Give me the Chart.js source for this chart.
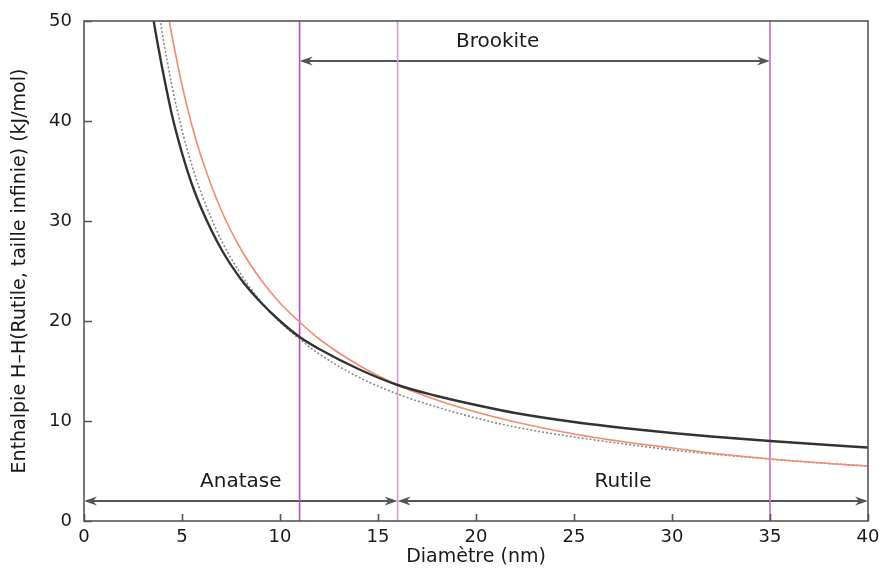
<!DOCTYPE html>
<html>
<head>
<meta charset="utf-8">
<script src="https://cdn.jsdelivr.net/npm/chart.js@4/dist/chart.umd.min.js"></script>
<style>
html,body{margin:0;padding:0;background:#fff;}
#c{display:block;}
</style>
</head>
<body>
<canvas id="c" width="883" height="569"></canvas>
<script>
// ---- Data ----
const blackD  = [3.5, 3.75, 4, 4.5, 5, 5.5, 6, 7, 8, 9, 10, 11, 12, 14, 16, 18, 20, 22, 25, 28, 30, 32, 35, 38, 40];
const blackH  = [50.6, 47.8, 45.2, 40.5, 36.8, 33.7, 31.2, 27.2, 24.2, 21.9, 20.0, 18.4, 17.2, 15.2, 13.6, 12.5, 11.6, 10.8, 9.9, 9.2, 8.8, 8.45, 8.0, 7.6, 7.35];
const orangeD = [4.3, 4.5, 5, 5.5, 6, 7, 8, 9, 10, 11, 12, 14, 16, 18, 20, 22, 25, 28, 30, 32, 35, 38, 40];
const orangeH = [50.5, 48.4, 43.6, 39.6, 36.3, 31.1, 27.2, 24.2, 21.8, 19.9, 18.2, 15.6, 13.6, 12.1, 10.9, 9.9, 8.7, 7.8, 7.3, 6.8, 6.2, 5.75, 5.5];
const greyD   = [3.88, 4, 4.5, 5, 5.5, 6, 7, 8, 9, 10, 11, 12, 14, 16, 18, 20, 22, 25, 28, 30, 32, 35, 38, 40];
const greyH   = [50.2, 48.7, 43.4, 39.1, 35.6, 32.7, 28.1, 24.7, 22.0, 19.9, 18.2, 16.7, 14.4, 12.7, 11.4, 10.3, 9.4, 8.4, 7.6, 7.1, 6.7, 6.2, 5.75, 5.5];

const boundaries   = [11, 16, 35];
const regionNames  = ['Anatase', 'Brookite', 'Rutile'];
const regionStart  = [0, 11, 16];
const regionEnd    = [16, 35, 40];
const regionLevel  = [2, 46, 2];
const regionLabelX = [8, 21.1, 27.5];
const regionLabelY = [3.9, 47.9, 3.9];

const xTicks = [0, 5, 10, 15, 20, 25, 30, 35, 40];
const yTicks = [0, 10, 20, 30, 40, 50];

const xTitle = 'Diamètre (nm)';
const yTitle = 'Enthalpie H–H(Rutile, taille infinie) (kJ/mol)';

// ---- helpers ----
const pts = (xs, ys) => xs.map((x, i) => ({x: x, y: ys[i]}));
const boundaryColors = ['#c04cc0', '#d79ad7', '#c870c8'];
const FONT = '"DejaVu Sans", Verdana, sans-serif';
const TXT = '#1a1a1a';
const AX = '#555555';

const boundarySets = boundaries.map((b, i) => ({
  data: [{x: b, y: 0}, {x: b, y: 50}],
  borderColor: boundaryColors[i],
  borderWidth: 1.6,
  pointRadius: 0,
  showLine: true,
  order: 5
}));

const decor = {
  id: 'decor',
  beforeDatasetsDraw(chart) {
    const {ctx, scales: {x, y}} = chart;
    ctx.save();
    ctx.strokeStyle = AX;
    ctx.fillStyle = AX;
    ctx.lineWidth = 2;
    const head = (px, py, dir) => {
      const L = 13, W = 4.5, N = 4;
      ctx.beginPath();
      ctx.moveTo(px, py);
      ctx.lineTo(px - dir * L, py - W);
      ctx.lineTo(px - dir * (L - N), py);
      ctx.lineTo(px - dir * L, py + W);
      ctx.closePath();
      ctx.fill();
    };
    for (let i = 0; i < regionNames.length; i++) {
      const x0 = x.getPixelForValue(regionStart[i]);
      const x1 = x.getPixelForValue(regionEnd[i]);
      const py = y.getPixelForValue(regionLevel[i]);
      ctx.beginPath();
      ctx.moveTo(x0 + 4, py);
      ctx.lineTo(x1 - 4, py);
      ctx.stroke();
      head(x0, py, -1);
      head(x1, py, 1);
      ctx.font = '20px ' + FONT;
      ctx.fillStyle = TXT;
      ctx.textAlign = 'center';
      ctx.textBaseline = 'middle';
      ctx.fillText(regionNames[i], x.getPixelForValue(regionLabelX[i]), y.getPixelForValue(regionLabelY[i]));
      ctx.fillStyle = AX;
    }
    ctx.restore();
  },
  afterDraw(chart) {
    const {ctx, chartArea: a, scales: {x, y}} = chart;
    ctx.save();
    ctx.strokeStyle = AX;
    ctx.lineWidth = 1.6;
    ctx.strokeRect(a.left, a.top, a.right - a.left, a.bottom - a.top);
    ctx.beginPath();
    xTicks.forEach(v => {
      const px = Math.round(x.getPixelForValue(v)) + 0.5;
      ctx.moveTo(px, a.bottom);
      ctx.lineTo(px, a.bottom - 7);
    });
    yTicks.forEach(v => {
      const py = Math.round(y.getPixelForValue(v)) + 0.5;
      ctx.moveTo(a.left, py);
      ctx.lineTo(a.left + 8, py);
    });
    ctx.stroke();
    ctx.restore();
  }
};

new Chart(document.getElementById('c'), {
  type: 'scatter',
  data: {
    datasets: [
      {
        label: 'noir',
        data: pts(blackD, blackH),
        borderColor: '#333333',
        borderWidth: 2.4,
        showLine: true,
        pointRadius: 0,
        cubicInterpolationMode: 'monotone',
        order: 1
      },
      {
        label: 'orange',
        data: pts(orangeD, orangeH),
        borderColor: '#f48a72',
        borderWidth: 1.6,
        showLine: true,
        pointRadius: 0,
        cubicInterpolationMode: 'monotone',
        order: 2
      },
      {
        label: 'pointillé',
        data: pts(greyD, greyH),
        borderColor: '#8a8a8a',
        borderWidth: 1.6,
        borderDash: [2, 2],
        showLine: true,
        pointRadius: 0,
        cubicInterpolationMode: 'monotone',
        order: 3
      },
      ...boundarySets
    ]
  },
  options: {
    responsive: false,
    animation: false,
    layout: {padding: {top: 21, right: 15, left: 0, bottom: 0}},
    plugins: {legend: {display: false}, tooltip: {enabled: false}},
    scales: {
      x: {
        type: 'linear',
        min: 0, max: 40,
        afterBuildTicks: s => { s.ticks = xTicks.map(v => ({value: v})); },
        afterFit: s => { s.height = 48; s.paddingLeft = 0; s.paddingRight = 0; },
        grid: {display: false, drawTicks: false},
        border: {display: false},
        ticks: {padding: 6, color: TXT, font: {family: FONT, size: 18}, maxRotation: 0},
        title: {display: true, text: xTitle, color: TXT, font: {family: FONT, size: 19}, padding: {top: 0, bottom: 1}}
      },
      y: {
        type: 'linear',
        min: 0, max: 50,
        afterBuildTicks: s => { s.ticks = yTicks.map(v => ({value: v})); },
        afterFit: s => { s.width = 84; s.paddingTop = 0; s.paddingBottom = 0; },
        grid: {display: false, drawTicks: false},
        border: {display: false},
        ticks: {padding: 12, color: TXT, font: {family: FONT, size: 18}},
        title: {display: true, text: yTitle, color: TXT, font: {family: FONT, size: 19}, padding: {top: 9, bottom: 0}}
      }
    }
  },
  plugins: [decor]
});
</script>
</body>
</html>
